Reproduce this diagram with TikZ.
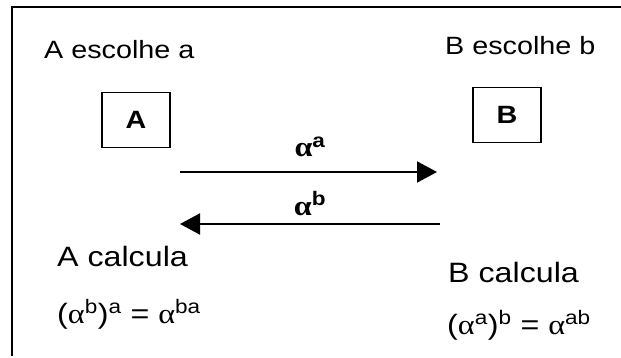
\documentclass[tikz,border=0pt]{standalone}
\usepackage{fontspec}
\setmainfont[FakeStretch=1.15]{Liberation Sans}
\newfontfamily\symbolfont[FakeStretch=1.15]{Liberation Serif}
\usetikzlibrary{arrows.meta}
\newcommand{\namefont}{\fontsize{25}{30}\selectfont}
\newcommand{\calcfont}{\fontsize{28}{33}\selectfont}
\newcommand{\alfa}{{\symbolfont α}}
\newcommand{\hoch}[1]{\textsuperscript{#1}}

\begin{document}
\begin{tikzpicture}[x=1pt,y=-1pt,
  party/.style={draw, line width=1.5pt, minimum width=68pt, minimum height=55pt,
                inner sep=0pt, font=\namefont\bfseries},
  txt/.style={anchor=base west, inner sep=0pt},
  val/.style={anchor=base, inner sep=0pt, font=\calcfont\bfseries},
  msg/.style={line width=2pt, -{Triangle[length=20pt,width=21pt]}}]
\useasboundingbox (0,0) rectangle (621,358);
% frame, only the top and the left edge show
\draw[line width=2pt] (12,356) -- (12,7) -- (621,7);

\node[txt, font=\namefont] (choiceA) at (44,59) {A escolhe a};
\node[txt, font=\namefont] (choiceB) at (445,55) {B escolhe b};
\node[party] (A) at (136,120) {A};
\node[party] (B) at (507,115) {B};

% exchanged values
\coordinate (outA) at (180,172);
\coordinate (inB) at (437,172);
\coordinate (outB) at (440,224);
\coordinate (inA) at (180,224);
\draw[msg] (outA) -- (inB);
\draw[msg] (outB) -- (inA);
\node[val] (valA) at (310,157) {\alfa\hoch{a}};
\node[val] (valB) at (310,215) {\alfa\hoch{b}};

\node[txt, font=\calcfont] (calcA) at (57,266) {A calcula};
\node[txt, font=\calcfont] (keyA) at (57,323) {(\alfa\hoch{b})\hoch{a} = \alfa\hoch{ba}};
\node[txt, font=\calcfont] (calcB) at (448,282) {B calcula};
\node[txt, font=\calcfont] (keyB) at (447,334) {(\alfa\hoch{a})\hoch{b} = \alfa\hoch{ab}};
\end{tikzpicture}
\end{document}
